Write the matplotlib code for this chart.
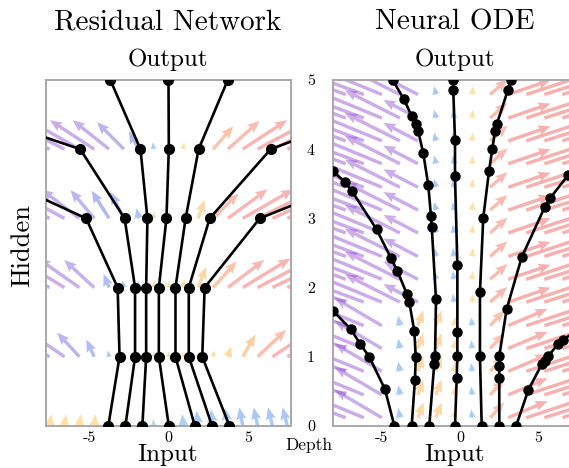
import numpy as np
import matplotlib
matplotlib.use("Agg")
import matplotlib.pyplot as plt
from matplotlib.colors import LinearSegmentedColormap, Normalize

plt.rcParams['font.family'] = ['cmr10', 'DejaVu Serif']
plt.rcParams['mathtext.fontset'] = 'cm'

# ---------------- data ----------------
# ResNet: hidden state at each discrete depth (0..5) for 7 inputs
res_depth = [0, 1, 2, 3, 4, 5]
res_t1 = [-3.80, -3.09, -3.21, -5.20, -14.7, -26.0]
res_t2 = [-2.72, -2.11, -2.11, -2.77, -5.57, -18.5]
res_t3 = [-1.65, -1.41, -1.41, -1.33, -1.77, -3.67]
res_t4 = [0.02, -0.61, -0.61, -0.13, 0.02, 0.00]
res_t5 = [1.66, 0.44, 0.44, 1.08, 1.90, 3.74]
res_t6 = [2.75, 1.28, 1.28, 2.60, 6.45, 18.0]
res_t7 = [3.85, 2.13, 2.28, 5.76, 16.6, 30.0]

# ResNet vector field: columns and per-layer arrows
res_cols = [-7.5, -6.5625, -5.625, -4.6875, -3.75, -2.8125, -1.875, -0.9375, 0.0,
            0.9375, 1.875, 2.8125, 3.75, 4.6875, 5.625, 6.5625, 7.5]
res_rows = [0, 1, 2, 3, 4]
res_u0 = [0.10, 0.10, 0.10, 0.08, 0.06, 0.04, 0.02, -0.02, 0.0, -0.06, -0.10, -0.14, -0.18, -0.22, -0.25, -0.28, -0.30]
res_v0 = [0.17, 0.17, 0.17, 0.17, 0.15, 0.12, 0.10, 0.10, 0.10, 0.17, 0.22, 0.24, 0.26, 0.27, 0.27, 0.27, 0.27]
res_u1 = [-3.2, -2.4, -1.4, -0.5, -0.08, -0.05, -0.03, 0.02, 0.02, 0.04, 0.05, 0.08, 0.2, 0.8, 1.8, 2.6, 3.2]
res_v1 = [0.40, 0.38, 0.35, 0.25, 0.09, 0.08, 0.08, 0.08, 0.08, 0.08, 0.08, 0.09, 0.15, 0.32, 0.39, 0.40, 0.40]
res_u2 = [-3.6, -3.0, -2.6, -1.9, -0.35, -0.10, -0.05, 0.03, 0.05, 0.08, 0.5, 1.5, 2.3, 3.0, 3.5, 3.8, 4.0]
res_v2 = [0.42, 0.42, 0.42, 0.40, 0.20, 0.10, 0.10, 0.10, 0.10, 0.12, 0.30, 0.38, 0.40, 0.42, 0.42, 0.42, 0.42]
res_u3 = [-3.8, -3.4, -2.4, -1.5, -1.1, -0.85, -0.15, 0.03, 0.06, 0.08, 0.4, 1.6, 2.5, 3.2, 3.7, 4.0, 4.2]
res_v3 = [0.42, 0.42, 0.42, 0.41, 0.40, 0.38, 0.15, 0.10, 0.10, 0.10, 0.27, 0.36, 0.42, 0.42, 0.42, 0.42, 0.42]
res_u4 = [-4.0, -3.6, -3.2, -2.8, -2.3, -1.7, -0.63, -0.05, 0.03, 0.05, 0.15, 1.27, 2.0, 2.8, 3.4, 3.8, 4.0]
res_v4 = [0.42, 0.42, 0.42, 0.42, 0.42, 0.39, 0.26, 0.10, 0.10, 0.10, 0.12, 0.33, 0.41, 0.42, 0.42, 0.42, 0.42]

# Neural ODE: solver evaluation points (x, depth) for 7 inputs
ode_a_x = [-4.18, -4.78, -5.78, -6.37, -6.96, -8.07, -9.6]
ode_a_d = [0.00, 0.53, 1.00, 1.19, 1.40, 1.66, 1.98]
ode_b_x = [-3.08, -2.87, -2.82, -2.91, -3.23, -3.39, -3.99, -4.41, -5.31, -6.90, -7.32, -8.07, -9.6]
ode_b_d = [0.00, 0.67, 1.00, 1.37, 1.79, 1.91, 2.24, 2.43, 2.84, 3.40, 3.52, 3.68, 3.98]
ode_c_x = [-1.96, -1.64, -1.59, -1.53, -1.80, -1.85, -2.02, -2.34, -2.66, -2.80, -3.08, -3.57, -4.29]
ode_c_d = [0.00, 0.90, 1.01, 1.83, 2.87, 3.03, 3.48, 3.94, 4.26, 4.36, 4.48, 4.72, 5.00]
ode_d_x = [-0.32, -0.21, -0.17, -0.17, -0.17, -0.32, -0.32, -0.43, -0.43]
ode_d_d = [0.00, 0.70, 1.01, 1.36, 2.32, 3.61, 4.13, 4.85, 5.00]
ode_e_x = [1.38, 1.27, 1.27, 1.48, 1.85, 2.06, 2.23, 2.34, 3.04, 3.25]
ode_e_d = [0.00, 1.01, 1.94, 3.01, 3.69, 4.01, 4.26, 4.36, 4.85, 5.00]
ode_f_x = [2.50, 2.50, 2.50, 2.50, 2.97, 3.93, 5.41, 5.73, 6.90, 8.6]
ode_f_d = [0.00, 0.70, 0.86, 1.01, 1.69, 2.44, 3.17, 3.29, 3.63, 3.95]
ode_g_x = [3.57, 4.35, 5.20, 5.41, 5.62, 6.26, 6.58, 8.6]
ode_g_d = [0.00, 0.52, 0.89, 0.94, 1.01, 1.19, 1.25, 1.55]

# Neural ODE vector field (lower rows and upper rows differ)
ode_cols = [-7.28, -6.13, -4.98, -3.83, -2.68, -1.53, -0.38, 0.77, 1.92, 3.07, 4.22, 5.37, 6.52]
ode_rows_low = [0.12, 0.45, 0.79, 1.12, 1.45]
ode_rows_up = [1.79, 2.12, 2.45, 2.79, 3.12, 3.45, 3.79, 4.12, 4.45, 4.79]
ode_u_low = [-5.0, -4.5, -3.0, -0.10, 0.35, 0.35, 0.08, -0.05, 0.9, 2.5, 4.0, 5.0, 5.0]
ode_v_low = [0.42, 0.42, 0.40, 0.14, 0.22, 0.22, 0.13, 0.12, 0.22, 0.24, 0.30, 0.36, 0.36]
ode_u_up = [-5.0, -5.0, -4.5, -3.5, -2.2, -0.12, -0.08, 0.05, 1.1, 2.7, 4.0, 5.0, 5.0]
ode_v_up = [0.42, 0.42, 0.42, 0.40, 0.26, 0.12, 0.12, 0.12, 0.22, 0.21, 0.30, 0.36, 0.36]

# ---------------- styling ----------------
W, H = 569, 468
fig = plt.figure(figsize=(W / 100, H / 100), dpi=100)

def fx(px):
    return px / W

def fy(py):
    return 1 - py / H

ax_l = fig.add_axes([fx(46.5), fy(426), 244 / W, 346 / H])
ax_r = fig.add_axes([fx(333), fy(426), 244 / W, 346 / H])

cmap = LinearSegmentedColormap.from_list('dir', [
    (0.00, (0.60, 0.22, 0.78)),
    (0.18, (0.55, 0.30, 0.82)),
    (0.32, (0.35, 0.38, 0.90)),
    (0.47, (0.25, 0.58, 0.93)),
    (0.50, (0.60, 0.70, 0.70)),
    (0.53, (0.99, 0.76, 0.22)),
    (0.66, (0.98, 0.60, 0.22)),
    (0.80, (0.94, 0.38, 0.36)),
    (1.00, (0.92, 0.26, 0.26)),
])

def draw_field(ax, X, Y, U, V, ppx, ppy):
    ang = np.degrees(np.arctan2(U * ppx, V * ppy))
    C = (ang / 90.0 + 1) / 2
    ax.quiver(X, Y, U, V, C, cmap=cmap, norm=Normalize(0, 1), angles='xy',
              scale_units='xy', scale=1, width=0.014, headwidth=3.0,
              headlength=3.6, headaxislength=3.2, alpha=0.45, zorder=1)

# Left field
rx, ry = np.meshgrid(res_cols, res_rows)
RU = np.array([res_u0, res_u1, res_u2, res_u3, res_u4])
RV = np.array([res_v0, res_v1, res_v2, res_v3, res_v4])
draw_field(ax_l, rx, ry, RU, RV, 15.84, 69.2)

# Right field
for rows, u, v in [(ode_rows_low, ode_u_low, ode_v_low), (ode_rows_up, ode_u_up, ode_v_up)]:
    ox, oy = np.meshgrid(ode_cols, rows)
    OU = np.tile(u, (len(rows), 1))
    OV = np.tile(v, (len(rows), 1))
    draw_field(ax_r, ox, oy, OU, OV, 15.7, 69.2)

for t in [res_t1, res_t2, res_t3, res_t4, res_t5, res_t6, res_t7]:
    ax_l.plot(t, res_depth, '-', color='black', lw=1.9, zorder=3)
    ax_l.plot(t, res_depth, 'o', color='black', ms=7, zorder=4)

for tx, td in [(ode_a_x, ode_a_d), (ode_b_x, ode_b_d), (ode_c_x, ode_c_d),
               (ode_d_x, ode_d_d), (ode_e_x, ode_e_d), (ode_f_x, ode_f_d),
               (ode_g_x, ode_g_d)]:
    ax_r.plot(tx, td, '-', color='black', lw=1.9, zorder=3)
    ax_r.plot(tx, td, 'o', color='black', ms=6.5, zorder=4)

ax_l.set_xlim(-7.7, 7.7)
ax_r.set_xlim(-8.09, 7.45)
for ax in (ax_l, ax_r):
    ax.set_ylim(0, 5)
    for s in ax.spines.values():
        s.set_color('#a8a8a8')
        s.set_linewidth(1.4)
    ax.set_xticks([-5, 0, 5])
    ax.set_xticklabels(['-5', '0', '5'])
    ax.tick_params(axis='x', length=0, pad=4, labelsize=11.5)

ax_l.set_yticks([])
ax_r.set_yticks([0, 1, 2, 3, 4, 5])
ax_r.set_yticklabels(['0', '1', '2', '3', '4', '5'])
ax_r.tick_params(axis='y', length=0, pad=13, labelsize=11.5)

# Text
fig.text(fx(168), fy(30), 'Residual Network', fontsize=21, ha='center', va='baseline')
fig.text(fx(455), fy(30), 'Neural ODE', fontsize=21, ha='center', va='baseline')
fig.text(fx(168), fy(66), 'Output', fontsize=18, ha='center', va='baseline')
fig.text(fx(455), fy(66), 'Output', fontsize=18, ha='center', va='baseline')
fig.text(fx(168), fy(461), 'Input', fontsize=18, ha='center', va='baseline')
fig.text(fx(455), fy(461), 'Input', fontsize=18, ha='center', va='baseline')
fig.text(fx(309), fy(450), 'Depth', fontsize=12.5, ha='center', va='baseline')
fig.text(fx(22), fy(246), 'Hidden', fontsize=19, ha='center', va='center', rotation=90)

fig.savefig('out.png', dpi=100)
